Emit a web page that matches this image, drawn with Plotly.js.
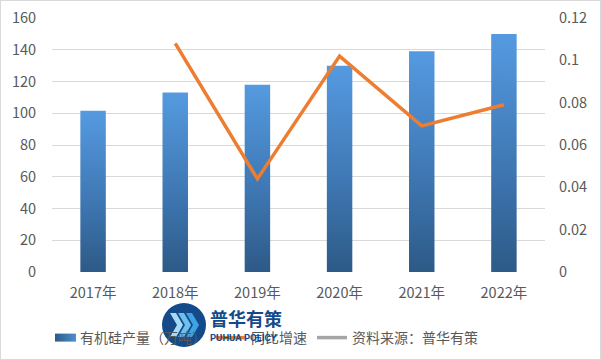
<!DOCTYPE html>
<html><head><meta charset="utf-8">
<script src="https://cdn.plot.ly/plotly-3.0.1.min.js"></script>
<style>
html,body{margin:0;padding:0;background:#fff;}
#chart{width:601px;height:360px;box-sizing:border-box;border:1px solid #d9d9d9;}
</style></head>
<body><div id="chart"></div>
<script>
const years = ['2017年','2018年','2019年','2020年','2021年','2022年'];
const output = [101.5, 113, 118, 130, 139, 150];
const growthYears = ['2018年','2019年','2020年','2021年','2022年'];
const growth = [0.108, 0.044, 0.102, 0.069, 0.079];
const barName = '有机硅产量（万吨）';
const lineName = '同比增速';
const sourceName = '资料来源：普华有策';

const W = 599, H = 358;
const L = 51, R = 55, T = 17, B = 87;
const pw = W - L - R, ph = H - T - B;
function px(X){ return (X - 1 - L) / pw; }
function py(Y){ return (H - B - (Y - 1)) / ph; }

const font = {family: '"Noto Sans CJK SC", sans-serif', size: 14.5, color: '#595959'};
const legFont = {family: '"Noto Sans CJK SC", sans-serif', size: 14, color: '#595959'};

const traces = [
  {type:'bar', x: years, y: output, name: barName,
   marker:{color:'#4a86c5'}, hoverinfo:'skip'},
  {type:'scatter', mode:'lines', x: growthYears, y: growth, name: lineName, yaxis:'y2',
   line:{color:'#ED7D31', width:3.5}},
  {type:'scatter', mode:'lines', x:[null], y:[null], name: sourceName,
   line:{color:'#A5A5A5', width:3.5}, yaxis:'y2'}
];

// decorative watermark logo
const cx = 184, cy = 325, r = 22;
const shapes = [
  {type:'circle', xref:'paper', yref:'paper', layer:'above',
   x0:px(cx-r), x1:px(cx+r), y0:py(cy+r), y1:py(cy-r),
   fillcolor:'#144a8a', line:{width:0}}
];
function chevron(ox, col){
  const pts = [[ox,cy-12],[ox+6,cy-12],[ox+13,cy],[ox+6,cy+12],[ox,cy+12],[ox+7,cy]];
  return {type:'path', xref:'paper', yref:'paper', layer:'above',
    path: 'M' + pts.map(p => px(p[0]) + ',' + py(p[1])).join(' L') + ' Z',
    fillcolor: col, line:{width:0}};
}
shapes.push(chevron(170,'#a6dbf5'), chevron(178,'#6cc0ee'), chevron(186,'#3ea3e3'));

const layout = {
  width: W, height: H,
  margin:{l:L, r:R, t:T, b:B},
  paper_bgcolor:'#fff', plot_bgcolor:'#fff',
  font: font,
  showlegend: true,
  bargap: 0.69,
  xaxis:{type:'category', tickfont:font, showline:false, ticks:'outside', ticklen:8,
         tickcolor:'rgba(0,0,0,0)', zeroline:false, showgrid:false},
  yaxis:{range:[0,160], dtick:20, tickfont:font, gridcolor:'#d9d9d9', gridwidth:1,
         zeroline:false, showline:false, ticks:'outside', ticklen:12, tickcolor:'rgba(0,0,0,0)',
         automargin:false},
  yaxis2:{range:[0,0.12], dtick:0.02, overlaying:'y', side:'right', tickfont:font,
          showgrid:false, zeroline:false, showline:false, ticks:'outside', ticklen:10,
          tickcolor:'rgba(0,0,0,0)', automargin:false},
  legend:{orientation:'h', xref:'container', yref:'container',
          x:39/W, xanchor:'left', y:1-(321/H), yanchor:'top',
          font:legFont, bgcolor:'rgba(0,0,0,0)', itemwidth:30, tracegroupgap:0},
  shapes: shapes,
  annotations:[
    {xref:'paper', yref:'paper', x:px(208), y:py(318), xanchor:'left', yanchor:'middle',
     text:'<b>普华有策</b>', showarrow:false,
     font:{family:'"Noto Sans CJK SC", sans-serif', size:18, color:'#144a8a'}},
    {xref:'paper', yref:'paper', x:px(208), y:py(337), xanchor:'left', yanchor:'middle',
     text:'<b>PUHUA POLICY</b>', showarrow:false,
     font:{family:'Roboto, sans-serif', size:9.5, color:'#144a8a'}}
  ]
};

Plotly.newPlot('chart', traces, layout, {displayModeBar:false, staticPlot:true}).then(gd => {
  const svg = gd.querySelector('svg.main-svg');
  const ns = 'http://www.w3.org/2000/svg';
  let defs = svg.querySelector('defs');
  if(!defs){ defs = document.createElementNS(ns,'defs'); svg.insertBefore(defs, svg.firstChild); }
  const g = document.createElementNS(ns,'linearGradient');
  g.setAttribute('id','barGrad'); g.setAttribute('x1','0'); g.setAttribute('y1','0');
  g.setAttribute('x2','0'); g.setAttribute('y2','1');
  [['0','#559ae0'],['0.55','#3f78b4'],['1','#2d5a87']].forEach(s => {
    const st = document.createElementNS(ns,'stop');
    st.setAttribute('offset', s[0]); st.setAttribute('stop-color', s[1]);
    g.appendChild(st);
  });
  const g2 = document.createElementNS(ns,'linearGradient');
  g2.setAttribute('id','legGrad'); g2.setAttribute('x1','0'); g2.setAttribute('y1','0');
  g2.setAttribute('x2','1'); g2.setAttribute('y2','0');
  [['0','#2d5a87'],['1','#4f8fd0']].forEach(s => {
    const st = document.createElementNS(ns,'stop');
    st.setAttribute('offset', s[0]); st.setAttribute('stop-color', s[1]);
    g2.appendChild(st);
  });
  defs.appendChild(g); defs.appendChild(g2);
  gd.querySelectorAll('.barlayer .point path').forEach(p => { p.style.fill = 'url(#barGrad)'; });
  const items = gd.querySelectorAll('.legend .traces');
  if (items[0]) {
    items[0].querySelectorAll('.legendpoints path').forEach(p => {
      p.setAttribute('d', 'M-5,-4h21v8h-21Z');
      p.style.fill = 'url(#legGrad)';
      p.style.stroke = 'none';
    });
  }
});
</script></body></html>
